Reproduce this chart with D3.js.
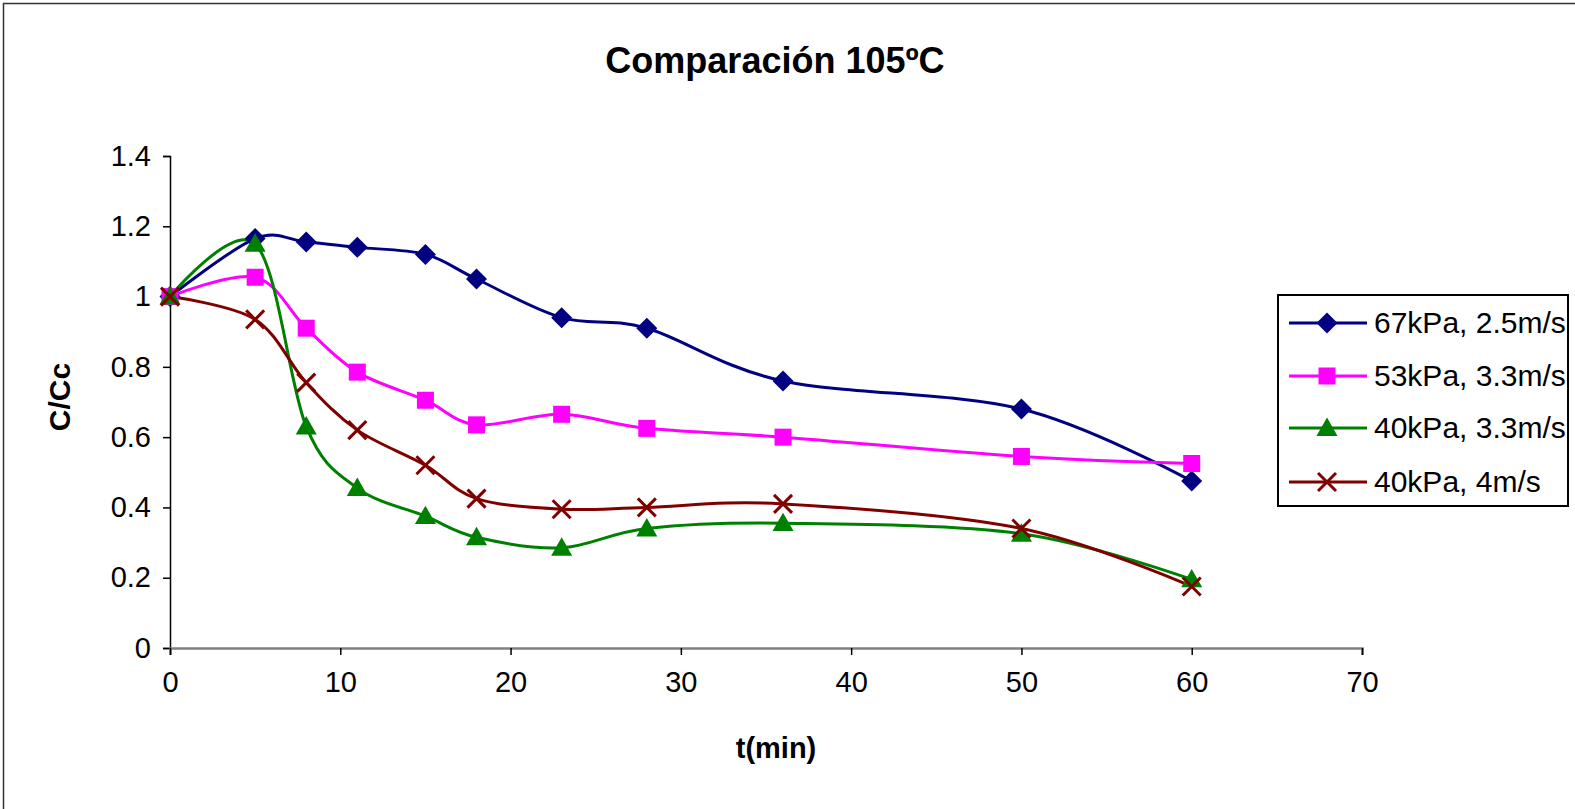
<!DOCTYPE html>
<html>
<head>
<meta charset="utf-8">
<script src="https://cdn.jsdelivr.net/npm/d3@7"></script>
<style>
  html, body { margin: 0; padding: 0; background: #fff; }
  svg { display: block; }
  text { font-family: Arial, "Liberation Sans", sans-serif; fill: #000; }
</style>
</head>
<body>
<svg id="chart" width="1575" height="809"></svg>
<script>
// ---- data ----
const times = [0, 5, 8, 11, 15, 18, 23, 28, 36, 50, 60];
const s67_25 = [1.0, 1.165, 1.155, 1.14, 1.12, 1.05, 0.94, 0.91, 0.76, 0.68, 0.475];
const s53_33 = [1.0, 1.055, 0.91, 0.785, 0.705, 0.635, 0.665, 0.625, 0.60, 0.545, 0.525];
const s40_33 = [1.0, 1.15, 0.63, 0.455, 0.375, 0.315, 0.285, 0.34, 0.355, 0.325, 0.195];
const s40_4  = [1.0, 0.935, 0.755, 0.62, 0.52, 0.425, 0.395, 0.40, 0.41, 0.34, 0.175];
const seriesNames = ["67kPa, 2.5m/s", "53kPa, 3.3m/s", "40kPa, 3.3m/s", "40kPa, 4m/s"];
const xTicks = [0, 10, 20, 30, 40, 50, 60, 70];
const yTicks = [0, 0.2, 0.4, 0.6, 0.8, 1, 1.2, 1.4];
const titleText = "Comparación 105ºC";
const xTitle = "t(min)";
const yTitle = "C/Cc";

const series = [
  { name: seriesNames[0], values: s67_25, color: "#000080", marker: "diamond" },
  { name: seriesNames[1], values: s53_33, color: "#FF00FF", marker: "square" },
  { name: seriesNames[2], values: s40_33, color: "#008000", marker: "triangle" },
  { name: seriesNames[3], values: s40_4,  color: "#800000", marker: "x" }
];

const svg = d3.select("#chart");
const W = 1575, H = 809;

// outer frame
svg.append("rect").attr("x", 3.5).attr("y", 3.5).attr("width", W + 10).attr("height", H + 10)
  .attr("fill", "none").attr("stroke", "#333").attr("stroke-width", 1.5);

const plot = { left: 170, right: 1362, top: 156, bottom: 648 };
const x = d3.scaleLinear().domain([0, 70]).range([plot.left, plot.right]);
const y = d3.scaleLinear().domain([0, 1.4]).range([plot.bottom, plot.top]);

// title
svg.append("text").attr("x", 775).attr("y", 73).attr("text-anchor", "middle")
  .attr("font-size", 36).attr("font-weight", "bold").text(titleText);

// axes
const yAxis = d3.axisLeft(y).tickValues(yTicks).tickSize(7).tickPadding(12)
  .tickFormat(d => d3.format("")(+d.toFixed(1)));
const gy = svg.append("g").attr("transform", `translate(${plot.left},0)`).call(yAxis);
gy.select(".domain").attr("stroke", "#000").attr("stroke-width", 1.5);
gy.selectAll(".tick line").attr("stroke", "#000").attr("stroke-width", 1.5);
gy.selectAll(".tick text").attr("font-size", 29).attr("font-family", "Arial, 'Liberation Sans', sans-serif").attr("fill", "#000");

const xAxis = d3.axisBottom(x).tickValues(xTicks).tickSize(7).tickPadding(16);
const gx = svg.append("g").attr("transform", `translate(0,${plot.bottom})`).call(xAxis);
gx.select(".domain").attr("stroke", "#808080").attr("stroke-width", 2.5);
gx.selectAll(".tick line").attr("stroke", "#000").attr("stroke-width", 1.5);
gx.selectAll(".tick text").attr("font-size", 29).attr("font-family", "Arial, 'Liberation Sans', sans-serif").attr("fill", "#000");

// axis titles
svg.append("text").attr("x", 776).attr("y", 758).attr("text-anchor", "middle")
  .attr("font-size", 29).attr("font-weight", "bold").text(xTitle);
svg.append("text").attr("transform", "translate(70,397) rotate(-90)").attr("text-anchor", "middle")
  .attr("font-size", 30).attr("font-weight", "bold").text(yTitle);

// markers
function drawMarker(g, type, color, cx, cy) {
  if (type === "diamond") {
    const s = 10.5;
    g.append("path").attr("d", `M${cx},${cy - s}L${cx + s},${cy}L${cx},${cy + s}L${cx - s},${cy}Z`).attr("fill", color);
  } else if (type === "square") {
    const s = 8.5;
    g.append("rect").attr("x", cx - s).attr("y", cy - s).attr("width", 2 * s).attr("height", 2 * s).attr("fill", color);
  } else if (type === "triangle") {
    const s = 10.5;
    g.append("path").attr("d", `M${cx},${cy - s}L${cx + s},${cy + s * 0.75}L${cx - s},${cy + s * 0.75}Z`).attr("fill", color);
  } else if (type === "x") {
    const s = 9;
    g.append("path").attr("d", `M${cx - s},${cy - s}L${cx + s},${cy + s}M${cx - s},${cy + s}L${cx + s},${cy - s}`)
      .attr("stroke", color).attr("stroke-width", 3).attr("fill", "none");
  }
}

const line = d3.line().x(d => x(d[0])).y(d => y(d[1])).curve(d3.curveCardinal.tension(0));

series.forEach(s => {
  const pts = times.map((t, i) => [t, s.values[i]]);
  svg.append("path").datum(pts).attr("d", line).attr("fill", "none")
    .attr("stroke", s.color).attr("stroke-width", 3);
});
series.forEach(s => {
  const g = svg.append("g");
  times.forEach((t, i) => drawMarker(g, s.marker, s.color, x(t), y(s.values[i])));
});

// legend
const lg = svg.append("g");
lg.append("rect").attr("x", 1278).attr("y", 295).attr("width", 290).attr("height", 211)
  .attr("fill", "#fff").attr("stroke", "#000").attr("stroke-width", 2);
const rowY = [323, 376, 428, 482];
series.forEach((s, i) => {
  const cy = rowY[i];
  lg.append("line").attr("x1", 1289).attr("x2", 1367).attr("y1", cy).attr("y2", cy)
    .attr("stroke", s.color).attr("stroke-width", 3);
  drawMarker(lg, s.marker, s.color, 1327, cy);
  lg.append("text").attr("x", 1374).attr("y", cy + 10).attr("font-size", 30).text(s.name);
});
</script>
</body>
</html>
